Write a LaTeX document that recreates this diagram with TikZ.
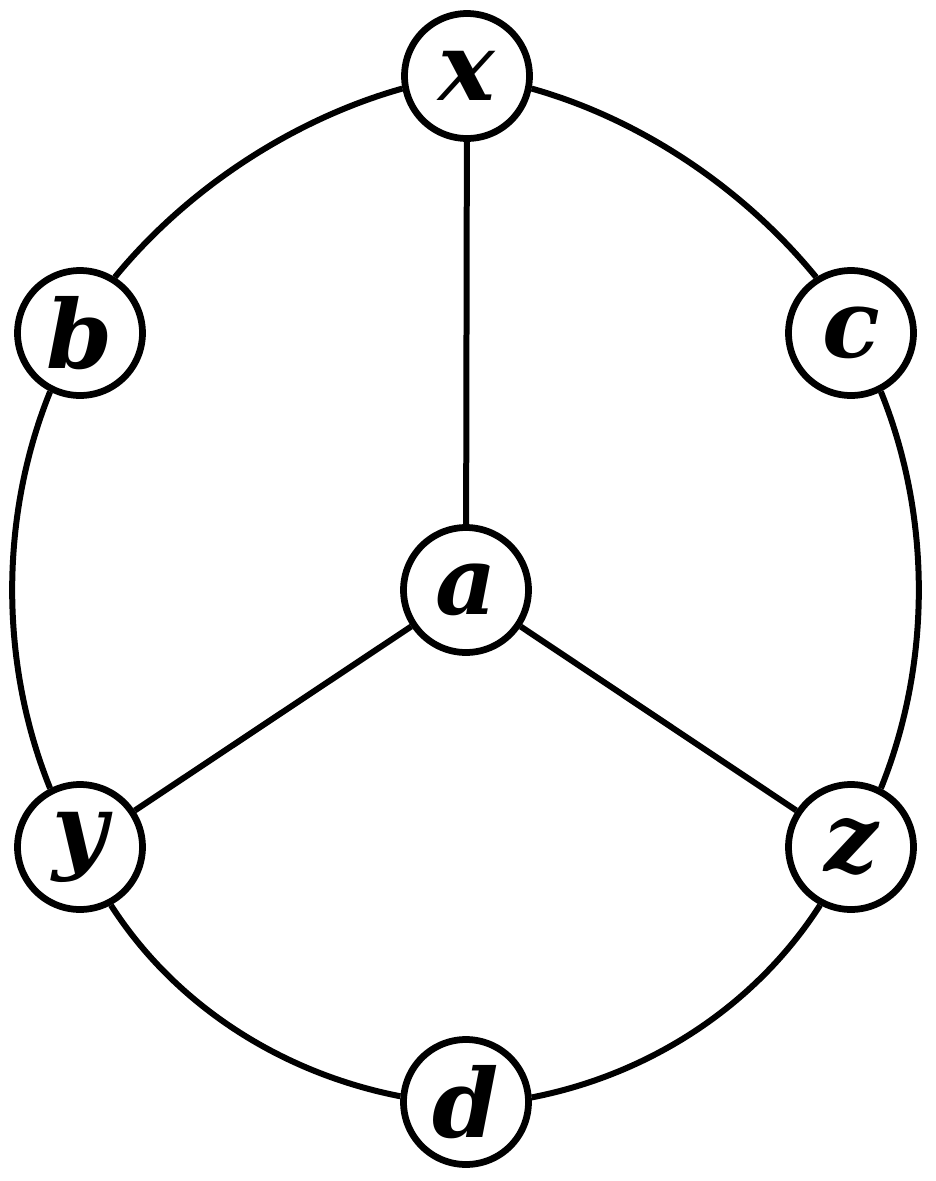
\documentclass[tikz,border=0pt]{standalone}
\usepackage{fontspec}
\newfontfamily\lblfont{DejaVu Serif}
\begin{document}
\begin{tikzpicture}[x=0.02cm,y=0.02cm,
  vtx/.style={circle,draw,line width=0.135cm,fill=white,minimum size=2.5cm,inner sep=0pt,
    font=\lblfont\bfseries\itshape\fontsize{54}{56}\selectfont},
  edge/.style={line width=0.12cm}]
\useasboundingbox (0,0) rectangle (936,-1181);
\node[vtx] (x) at (467,-76) {x};
\node[vtx] (b) at (80,-333) {b};
\node[vtx] (c) at (851,-333) {c};
\node[vtx] (a) at (466,-590) {a};
\node[vtx] (y) at (80,-847) {y};
\node[vtx] (z) at (851,-847) {z};
\node[vtx] (d) at (466,-1102) {d};
\draw[edge] (x) -- (a);
\draw[edge] (a) -- (y);
\draw[edge] (a) -- (z);
\draw[edge] (x.191) .. controls +(195.7:114) and +(50.7:114) .. (b.58);
\draw[edge] (b.243) .. controls +(248:135) and +(112:135) .. (y.117);
\draw[edge] (y.-62.7) .. controls +(-57.3:120) and +(169:120) .. (d.175.9);
\draw[edge] (d.4.1) .. controls +(11:120) and +(237.3:120) .. (z.242.7);
\draw[edge] (z.63) .. controls +(68:135) and +(292:135) .. (c.297);
\draw[edge] (c.122) .. controls +(129.3:114) and +(-15.7:114) .. (x.-11);
\end{tikzpicture}
\end{document}
